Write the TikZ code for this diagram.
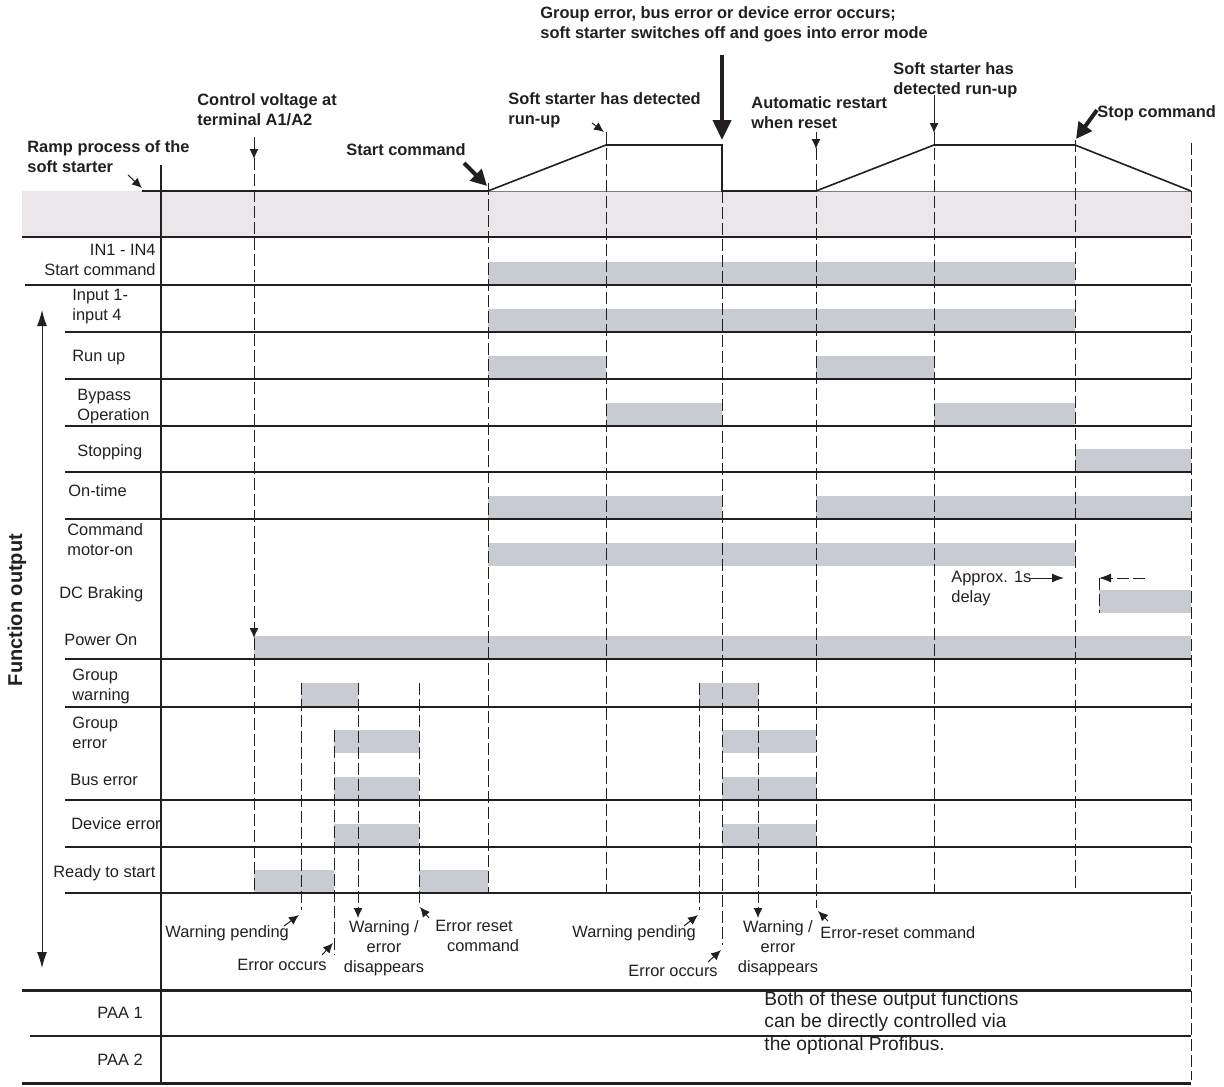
\documentclass[tikz,border=0pt]{standalone}
\usepackage{fontspec}
\setmainfont{Liberation Sans}
\usetikzlibrary{arrows.meta,positioning,calc}
\definecolor{bandgrey}{RGB}{234,230,234}
\definecolor{bargrey}{RGB}{200,203,210}
\definecolor{ink}{RGB}{35,31,32}

\begin{document}
\begin{tikzpicture}[x=0.5pt, y=-0.5pt,
  every node/.style={font=\fontsize{8.2}{10}\selectfont, inner sep=0pt, text=ink},
  head/.style={font=\fontsize{8.2}{10}\selectfont\bfseries, align=left, anchor=west},
  lbl/.style={align=left, anchor=west},
  note/.style={align=center},
  grid/.style={ink, line width=0.6pt},
  tline/.style={ink, line width=0.5pt, dash pattern=on 6pt off 2pt},
  sig/.style={ink, line width=0.8pt},
  fat/.style={-{Triangle[length=8pt,width=8pt]}, line width=2pt, ink},
  small/.style={-{Latex[length=5pt,width=4.5pt]}, line width=0.5pt, ink}]
\useasboundingbox (0,0) rectangle (1224,1086);

% ramp band
\fill[bandgrey] (22,191) rectangle (1191,237);
\draw[line width=0.5pt, gray] (142,191) -- (1191,191);

% signal bars
\foreach \a/\b/\y in {488/1075/285, 488/1075/332, 488/606/379, 816/934/379,
    606/722/426, 934/1075/426, 1075/1191/472, 488/722/519, 816/1191/519,
    488/1075/566, 1099/1191/613, 254/1191/659, 301/358/706, 699/758/706,
    334/419/753, 722/816/753, 334/419/800, 722/816/800, 334/419/847,
    722/816/847, 254/334/893, 419/488/893}
  \fill[bargrey] (\a,\y-23) rectangle (\b,\y);

% row lines
\draw[grid] (22,237) -- (1191,237);
\draw[grid] (25,285) -- (1191,285);
\foreach \y in {332,379,426,472,519,659,707,800,847,893}
  \draw[grid] (65,\y) -- (1191,\y);
\draw[grid] (161,165) -- (161,1083);
\draw[ink, line width=1.5pt] (22,990) -- (1191,990);
\draw[grid] (30,1036) -- (1191,1036);
\draw[ink, line width=1.5pt] (22,1083) -- (1191,1083);

% time marks
\foreach \x/\t/\b in {254/158/893, 488/183/893, 606/132/893, 722/191/945,
    816/148/908, 934/132/893, 1075/140/893, 1191/143/1080, 301/683/910,
    334/730/955, 419/683/905, 699/683/910}
  \draw[tline] (\x,\t) -- (\x,\b);
\draw[tline, -{Latex[length=5pt,width=4.5pt]}] (358,683) -- (358,918);
\draw[tline, -{Latex[length=5pt,width=4.5pt]}] (758,683) -- (758,918);

% ramp process
\draw[sig] (142,191) -- (488,191) -- (606,145) -- (722,145) -- (722,191)
  -- (816,191) -- (934,145) -- (1075,145) -- (1191,191);

% headings
\node[head] (ramp) at (27,157) {Ramp process of the\\soft starter};
\node[head] (ctrl) at (197,110) {Control voltage at\\terminal A1/A2};
\node[head] (start) at (346,150) {Start command};
\node[head] (runup) at (508,110) {Soft starter has detected\\run-up};
\node[head] (fault) at (540,24) {Group error, bus error or device error occurs;\\soft starter switches off and goes into error mode};
\node[head] (restart) at (751,113) {Automatic restart\\when reset};
\node[head] (runup2) at (893,80) {Soft starter has\\detected run-up};
\node[head] (stop) at (1097,113) {Stop command};

\coordinate (rampT) at (128,175);   \coordinate (rampH) at (142,188);
\coordinate (ctrlT) at (254,137);   \coordinate (ctrlH) at (254,159);
\coordinate (startT) at (464,163);  \coordinate (startH) at (487,186);
\coordinate (runT) at (592,123);    \coordinate (runH) at (604,132);
\coordinate (faultT) at (722,55);   \coordinate (faultH) at (722,140);
\coordinate (restT) at (816,132);   \coordinate (restH) at (816,149);
\coordinate (run2T) at (934,95);    \coordinate (run2H) at (934,133);
\coordinate (stopT) at (1097,110);  \coordinate (stopH) at (1076,139);
\draw[small] (rampT) -- (rampH);
\draw[small] (ctrlT) -- (ctrlH);
\draw[fat] (startT) -- (startH);
\draw[small] (runT) -- (runH);
\draw[fat, -{Triangle[length=10pt,width=9pt]}] (faultT) -- (faultH);
\draw[small] (restT) -- (restH);
\draw[small] (run2T) -- (run2H);
\draw[fat] (stopT) -- (stopH);

% row labels
\node[anchor=east, align=right] (in) at (156,260) {IN1 - IN4\\Start command};
\node[lbl] (inp) at (72,307) {Input 1-\\input 4};
\node[lbl] (run) at (72,358) {Run up};
\node[lbl] (byp) at (77,407) {Bypass\\Operation};
\node[lbl] (stp) at (77,452) {Stopping};
\node[lbl] (ont) at (68,491) {On-time};
\node[lbl] (cmd) at (67,540) {Command\\motor-on};
\node[lbl] (dcb) at (59,594) {DC Braking};
\node[lbl] (pwr) at (64,640) {Power On};
\node[lbl] (gw) at (72,686) {Group\\warning};
\node[lbl] (ge) at (72,733) {Group\\error};
\node[lbl] (bus) at (70,780) {Bus error};
\node[lbl] (dev) at (71,824) {Device error};
\node[lbl] (rdy) at (53,873) {Ready to start};
\node[lbl] (paa1) at (97,1013) {PAA 1};
\node[lbl] (paa2) at (97,1060) {PAA 2};
\node[rotate=90, font=\fontsize{10}{12}\selectfont\bfseries] (fout) at (17,610) {Function output};
\coordinate (foutT) at (42,310); \coordinate (foutB) at (42,968);
\draw[grid, line width=0.5pt, {Latex[length=8pt,width=5pt]}-{Latex[length=8pt,width=5pt]}] (foutT) -- (foutB);

% power on and DC braking
\coordinate (pwrT) at (254,624); \coordinate (pwrH) at (254,638);
\draw[small] (pwrT) -- (pwrH);
\node[lbl] (delay) at (951,589) {Approx. 1s\\delay};
\coordinate (dlyT) at (1030,578); \coordinate (dlyH) at (1064,578);
\coordinate (brkT) at (1145,578); \coordinate (brkH) at (1099,578);
\draw[small, -{Latex[length=6pt,width=4.5pt]}] (dlyT) -- (dlyH);
\draw[tline, -{Latex[length=6pt,width=4.5pt]}] (brkT) -- (brkH);
\draw[tline] (1099,578) -- (1099,613);

% event notes
\node[lbl] (warn1) at (165,933) {Warning pending};
\node[lbl] (err1) at (237,965) {Error occurs};
\node[note] (gone1) at (384,948) {Warning /\\error\\disappears};
\node[note] (reset1) at (474,936) {Error reset\\\ \ \ \ command};
\node[lbl] (warn2) at (572,933) {Warning pending};
\node[lbl] (err2) at (628,971) {Error occurs};
\node[note] (gone2) at (778,948) {Warning /\\error\\disappears};
\node[lbl] (reset2) at (820,933) {Error-reset command};
\coordinate (w1T) at (284,926); \coordinate (w1H) at (299,915);
\coordinate (e1T) at (322,955); \coordinate (e1H) at (333,943);
\coordinate (r1T) at (429,918); \coordinate (r1H) at (420,907);
\coordinate (w2T) at (684,926); \coordinate (w2H) at (698,915);
\coordinate (e2T) at (708,962); \coordinate (e2H) at (721,950);
\coordinate (r2T) at (828,921); \coordinate (r2H) at (818,911);
\foreach \p in {w1,e1,r1,w2,e2,r2}
  \draw[small] (\p T) -- (\p H);

\node[lbl, font=\fontsize{9.6}{11.2}\selectfont] (paa) at (764,1023) {Both of these output functions\\can be directly controlled via\\the optional Profibus.};
\end{tikzpicture}
\end{document}
